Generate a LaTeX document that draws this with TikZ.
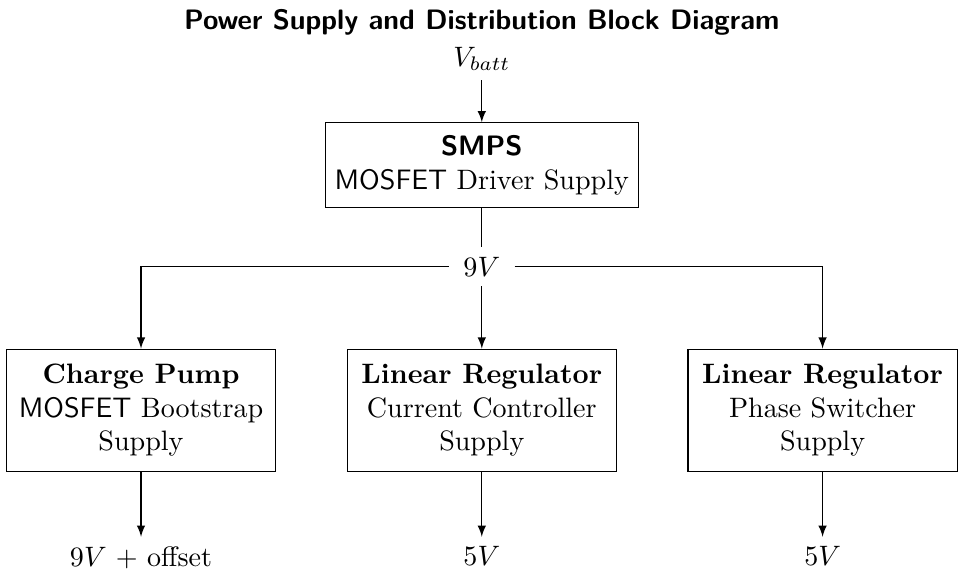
\documentclass[tikz,border=0pt]{standalone}
\usepackage{amsmath}
\usepackage{tikz}

\begin{document}
\begin{tikzpicture}[
  block/.style = {draw, thin, align=center, minimum width=3.37cm, minimum height=1.53cm},
  flow/.style  = {thin, ->, -latex}
]
\useasboundingbox (-6.03,-3.82) rectangle (5.96,3.34);
\node (title) at (0,2.97) [anchor=base] {\sffamily\bfseries Power Supply and Distribution Block Diagram};
\node (vbatt) at (0,2.51) [anchor=base] {$V_{batt}$};
\node (smps)  at (0,1.273) [draw, thin, align=center, minimum height=1.06cm] {\textsf{\textbf{SMPS}}\\ \textsf{MOSFET} Driver Supply};
\node (nine)  at (0,0) [inner xsep=5pt] {$9V$};
\node (cp)  at (-4.265,-1.795) [block] {\textbf{Charge Pump}\\ \textsf{MOSFET} Bootstrap\\ Supply};
\node (lrc) at (0,-1.795)      [block] {\textbf{Linear Regulator}\\ Current Controller\\ Supply};
\node (lrp) at (4.265,-1.795)  [block] {\textbf{Linear Regulator}\\ Phase Switcher\\ Supply};
\node (cpout)  at (-4.265,-3.378) [anchor=north] {$9V$ + offset};
\node (lrcout) at (0,-3.378)      [anchor=north] {$5V$};
\node (lrpout) at (4.265,-3.378)  [anchor=north] {$5V$};
\draw[flow] (vbatt) -- (smps);
\draw[thin] (smps) -- (nine);
\draw[flow] (nine) -| (cp);
\draw[flow] (nine) -- (lrc);
\draw[flow] (nine) -| (lrp);
\draw[flow] (cp)  -- (cpout);
\draw[flow] (lrc) -- (lrcout);
\draw[flow] (lrp) -- (lrpout);
\end{tikzpicture}
\end{document}
